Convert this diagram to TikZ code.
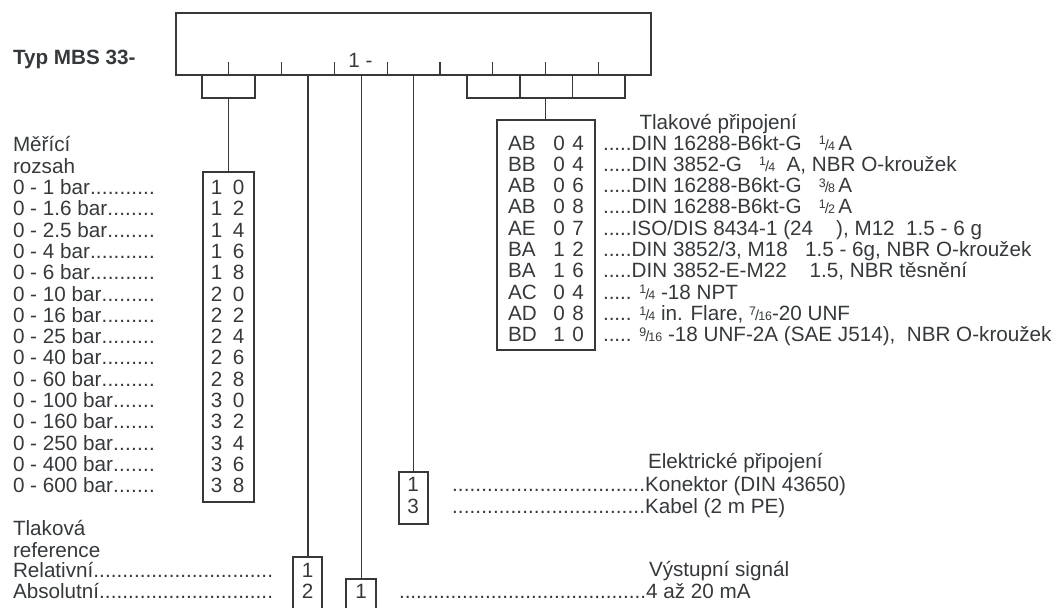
\documentclass[tikz,border=0pt]{standalone}
\usepackage{fontspec}
\setmainfont{Liberation Sans}
\usetikzlibrary{fit}
\definecolor{ink}{HTML}{35393C}
\newlength\pxu \setlength\pxu{0.75pt}
\newcommand\fr[2]{\raisebox{4.0pt}{\fontsize{9.3}{9.3}\selectfont #1}\kern-0.7pt{\fontsize{11}{11}\selectfont/}\kern-0.7pt{\fontsize{9.3}{9.3}\selectfont #2}}
\newcommand\lbl[2]{\hbox to #1\pxu{#2\xleaders\hbox{.}\hfill}}
\newcommand\drun[1]{\hbox to #1\pxu{\xleaders\hbox{.}\hfill}}
\newcommand\prow[5]{%
  \node[txt] (pc#1) at (508,{150+21.3*#1}) {#2};
  \node[num] (pd#1) at (559,{150+21.3*#1}) {#3};
  \node[num] (pe#1) at (578,{150+21.3*#1}) {#4};
  \node[txt] (pt#1) at (603,{150+21.3*#1}) {#5};}
\begin{document}
\begin{tikzpicture}[x=0.75pt,y=-0.75pt,line width=0.9pt,draw=ink,text=ink,
  every node/.style={inner sep=0pt,outer sep=0pt,font=\fontsize{15.5}{16}\selectfont},
  box/.style={draw},
  txt/.style={anchor=base west},
  num/.style={anchor=base}]
\useasboundingbox (0,0) rectangle (1060,608);

% title
\node[txt,font=\fontsize{15.5}{16}\selectfont\bfseries] (title) at (13,64.5) {Typ MBS 33-};

% main code box
\node[box,fit={(176,13)(651,75)}] (top) {};
\node[num] (one) at (360.5,67) {1 -};
\foreach \k in {1,...,8} \draw ({176+\k*52.78},75) -- ({176+\k*52.78},62);

% boxes
\node[box,fit={(203,172)(254,502)}] (rng) {};
\node[box,fit={(497,120)(595,350)}] (prs) {};
\node[box,fit={(399,472)(428,524)}] (el) {};
\node[fit={(293,557)(322,608)}] (ref) {};
\draw (ref.south west) |- (ref.north east) -- (ref.south east);
\node[fit={(346,579)(376,608)}] (out) {};
\draw (out.south west) |- (out.north east) -- (out.south east);

% brackets and connectors
\coordinate (b1) at (228.8,98);
\draw (202,75) -- (202,98) -- (255,98) -- (255,75);
\draw (b1) -- (b1 |- rng.north);
\coordinate (b2) at (545.6,98);
\draw (467,75) -- (467,98) -- (625,98) -- (625,75);
\draw (520,75) -- (520,98);
\draw (572.6,75) -- (572.6,98);
\draw (b2) -- (b2 |- prs.north);
\coordinate (s3) at (307.9,75);
\draw (s3) -- (s3 |- ref.north);
\coordinate (s4) at (361.1,75);
\draw (s4) -- (s4 |- out.north);
\coordinate (s5) at (413.6,75);
\draw (s5) -- (s5 |- el.north);

% measuring range
\node[txt] (mr1) at (13,151.9) {Měřící};
\node[txt] (mr2) at (13,173.2) {rozsah};
\foreach \t/\a/\b [count=\i from 2] in {0 - 1 bar/1/0,0 - 1.6 bar/1/2,0 - 2.5 bar/1/4,0 - 4 bar/1/6,0 - 6 bar/1/8,0 - 10 bar/2/0,0 - 16 bar/2/2,0 - 25 bar/2/4,0 - 40 bar/2/6,0 - 60 bar/2/8,0 - 100 bar/3/0,0 - 160 bar/3/2,0 - 250 bar/3/4,0 - 400 bar/3/6,0 - 600 bar/3/8}{
  \node[txt] (rt\i) at (13,{151.9+21.3*\i}) {\lbl{142}{\t}};
  \node[num] (ra\i) at (216.5,{151.9+21.3*\i}) {\a};
  \node[num] (rb\i) at (238.5,{151.9+21.3*\i}) {\b};
}

% pressure connection
\node[txt] (ph) at (639.5,129) {Tlakové připojení};
\prow{0}{AB}{0}{4}{.....DIN 16288-B6kt-G~~~\fr14\,A}
\prow{1}{BB}{0}{4}{.....DIN 3852-G~~~\fr14~~A, NBR O-kroužek}
\prow{2}{AB}{0}{6}{.....DIN 16288-B6kt-G~~~\fr38\,A}
\prow{3}{AB}{0}{8}{.....DIN 16288-B6kt-G~~~\fr12\,A}
\prow{4}{AE}{0}{7}{.....ISO/DIS 8434-1 (24~~~~), M12~~1.5 - 6 g}
\prow{5}{BA}{1}{2}{.....DIN 3852/3, M18~~~1.5 - 6g, NBR O-kroužek}
\prow{6}{BA}{1}{6}{.....DIN 3852-E-M22~~~~1.5, NBR těsnění}
\prow{7}{AC}{0}{4}{..... \fr14 -18 NPT}
\prow{8}{AD}{0}{8}{..... \fr14 in. Flare, \fr{7}{16}-20 UNF}
\prow{9}{BD}{1}{0}{..... \fr{9}{16} -18 UNF-2A (SAE J514),~~NBR O-kroužek}

% electrical connection
\node[txt] (eh) at (648,468) {Elektrické připojení};
\node[num] (e1) at (413,491.5) {1};
\node[num] (e3) at (413,513) {3};
\node[txt] (et1) at (452,491.5) {\drun{193}Konektor (DIN 43650)};
\node[txt] (et3) at (452,513) {\drun{193}Kabel (2 m PE)};

% pressure reference
\node[txt] (tr1) at (13,535.5) {Tlaková};
\node[txt] (tr2) at (13,557) {reference};
\node[txt] (tr3) at (13,577) {\lbl{260}{Relativní}};
\node[txt] (tr4) at (13,598) {\lbl{260}{Absolutní}};
\node[num] (f1) at (307.7,577) {1};
\node[num] (f2) at (307.7,598) {2};

% output signal
\node[txt] (oh) at (649,576) {Výstupní signál};
\node[num] (o1) at (361,598) {1};
\node[txt] (ot) at (399,598) {\drun{247}4 až 20 mA};
\end{tikzpicture}
\end{document}
